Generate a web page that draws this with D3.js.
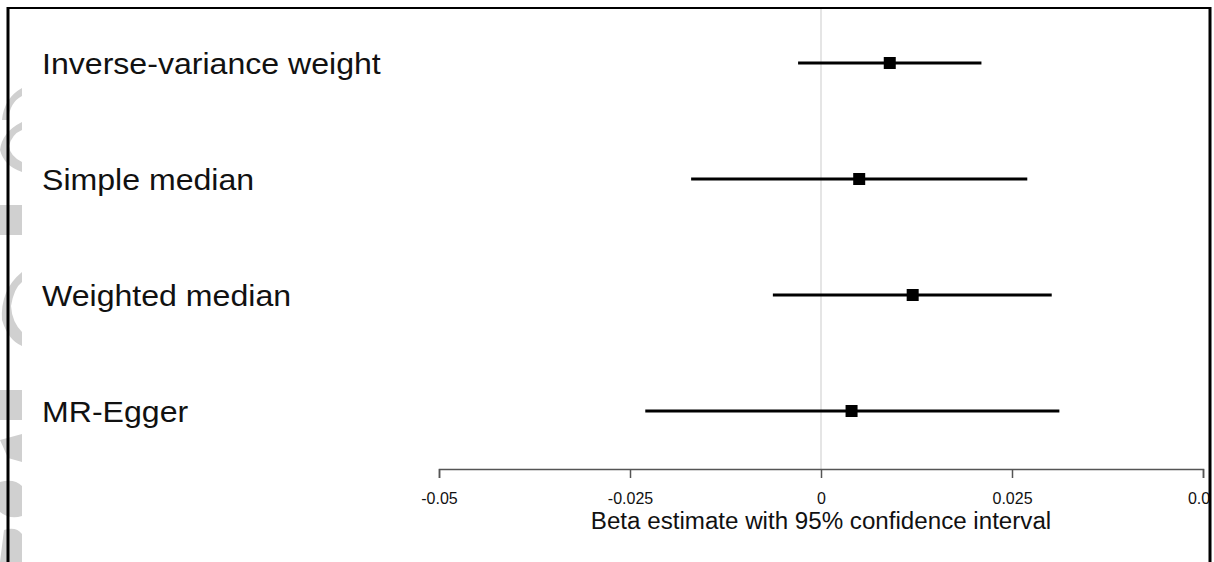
<!DOCTYPE html>
<html lang="en">
<head>
  <meta charset="UTF-8">
  <title>MR forest plot</title>
  <script src="https://d3js.org/d3.v7.min.js"></script>
  <style>
    body { margin: 0; background: #fff; }
    svg { display: block; font-family: "Liberation Sans", Arial, sans-serif; }
    .method { font-size: 30px; fill: #111; }
    .tick text { font-size: 16px; fill: #111; }
    .axis-title { font-size: 23px; fill: #111; }
  </style>
</head>
<body>
<svg width="1214" height="562"></svg>

<script>
  // data
  const methods = ["Inverse-variance weight", "Simple median", "Weighted median", "MR-Egger"];
  const estimates = [0.009, 0.005, 0.012, 0.004];
  const lower = [-0.003, -0.017, -0.0063, -0.023];
  const upper = [0.021, 0.027, 0.0302, 0.0312];
  const tickValues = [-0.05, -0.025, 0, 0.025, 0.05];
  const tickLabels = ["-0.05", "-0.025", "0", "0.025", "0.05"];

  const svg = d3.select("svg");

  // the original picture is cut at its right border
  svg.append("defs").append("clipPath")
          .attr("id", "frame-clip")
          .append("rect")
          .attr("x", 0).attr("y", 0)
          .attr("width", 1209).attr("height", 562);

  // faint gray shapes along the left edge
  const deco = svg.append("g").attr("fill", "#d0d0d0");
  deco.append("path").attr("d", "M22,88 Q4,98 2,120 L8,120 Q10,102 22,96 Z");
  deco.append("path").attr("d", "M22,122 Q2,132 0,150 Q4,166 22,172 L22,162 Q10,156 9,146 Q12,134 22,130 Z");
  deco.append("rect").attr("x", 0).attr("y", 205).attr("width", 22).attr("height", 30);
  deco.append("path").attr("d", "M22,272 Q0,290 2,320 Q8,340 22,346 L22,332 Q12,322 11,306 Q14,288 22,282 Z");
  deco.append("rect").attr("x", 0).attr("y", 390).attr("width", 22).attr("height", 30);
  deco.append("path").attr("d", "M0,440 L22,434 L22,462 L8,458 Z");
  deco.append("path").attr("d", "M0,482 Q14,478 22,486 L22,516 Q10,520 0,512 Z");
  deco.append("path").attr("d", "M4,530 Q16,526 22,534 L22,562 L0,562 Z");

  const x = d3.scaleLinear()
          .domain([-0.05, 0.05])
          .range([439, 1203]);

  const y = d3.scalePoint()
          .domain(methods)
          .range([63, 411]);

  const axisY = 469;

  // reference line at zero
  svg.append("line")
          .attr("x1", x(0)).attr("x2", x(0))
          .attr("y1", 8).attr("y2", axisY)
          .attr("stroke", "#dcdcdc")
          .attr("stroke-width", 1.5);

  // method labels (slightly wide lettering, as in the original)
  svg.selectAll(".method")
          .data(methods)
          .enter()
          .append("text")
          .attr("class", "method")
          .attr("transform", d => `translate(42, ${y(d)}) scale(1.07, 1)`)
          .attr("dy", "0.35em")
          .text(d => d);

  // confidence intervals
  svg.selectAll(".ci")
          .data(methods)
          .enter()
          .append("line")
          .attr("class", "ci")
          .attr("x1", (d, i) => x(lower[i]))
          .attr("x2", (d, i) => x(upper[i]))
          .attr("y1", d => y(d))
          .attr("y2", d => y(d))
          .attr("stroke", "#000")
          .attr("stroke-width", 3);

  // point estimates
  const sq = 12;
  svg.selectAll(".est")
          .data(methods)
          .enter()
          .append("rect")
          .attr("class", "est")
          .attr("x", (d, i) => x(estimates[i]) - sq / 2)
          .attr("y", d => y(d) - sq / 2)
          .attr("width", sq)
          .attr("height", sq)
          .attr("fill", "#000");

  // x axis
  const axis = svg.append("g")
          .attr("clip-path", "url(#frame-clip)")
          .append("g")
          .attr("transform", `translate(0, ${axisY})`)
          .call(d3.axisBottom(x)
                  .tickValues(tickValues)
                  .tickFormat((d, i) => tickLabels[i])
                  .tickSizeOuter(0)
                  .tickSize(9)
                  .tickPadding(15));
  axis.select(".domain").attr("stroke", "#555").attr("stroke-width", 1.5);
  axis.selectAll(".tick line").attr("stroke", "#555").attr("stroke-width", 1.5);

  svg.append("text")
          .attr("class", "axis-title")
          .attr("transform", `translate(${x(0)}, 529) scale(1.05, 1)`)
          .attr("text-anchor", "middle")
          .text("Beta estimate with 95% confidence interval");

  // frame
  svg.append("line").attr("x1", 7).attr("x2", 1211).attr("y1", 8).attr("y2", 8)
          .attr("stroke", "#000").attr("stroke-width", 2);
  svg.append("line").attr("x1", 8).attr("x2", 8).attr("y1", 7).attr("y2", 562)
          .attr("stroke", "#000").attr("stroke-width", 3);
  svg.append("line").attr("x1", 1210).attr("x2", 1210).attr("y1", 7).attr("y2", 562)
          .attr("stroke", "#000").attr("stroke-width", 3);
</script>
</body>
</html>
